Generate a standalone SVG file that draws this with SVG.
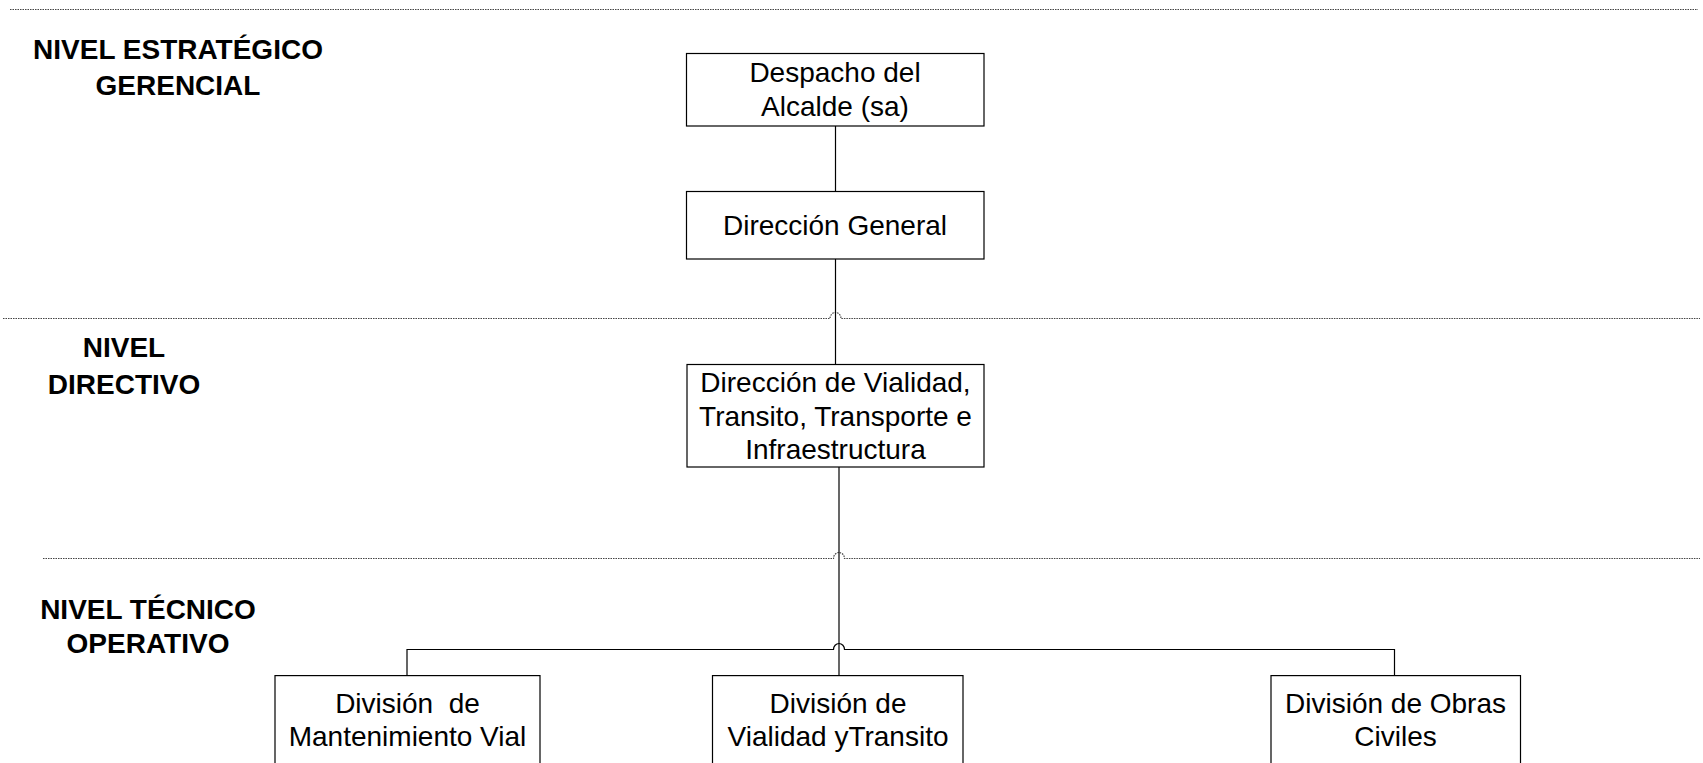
<svg xmlns="http://www.w3.org/2000/svg" width="1703" height="763" viewBox="0 0 1703 763">
<style>
.box{fill:#fff;stroke:#000;stroke-width:1.2}
.t{font-family:"Liberation Sans",Arial,sans-serif;font-size:28px;fill:#000;text-anchor:middle}
.lv{font-family:"Liberation Sans",Arial,sans-serif;font-size:28px;font-weight:bold;fill:#000;text-anchor:middle}
.sep{fill:none;stroke:#444;stroke-width:1.2;stroke-dasharray:1.5 1}
.c{fill:none;stroke:#000;stroke-width:1.2}
</style>
<rect width="1703" height="763" fill="#fff"/>
<g id="separators">
<path class="sep" d="M10 9.5 H1698"/>
<path class="sep" d="M3 318.5 H830 A5.5 6 0 0 1 841 318.5 H1700"/>
<path class="sep" d="M43 558.5 H833.5 A5.5 6 0 0 1 844.5 558.5 H1700"/>
</g>
<g id="level-labels">
<text class="lv" x="178" y="59">NIVEL ESTRATÉGICO</text>
<text class="lv" x="178" y="95">GERENCIAL</text>
<text class="lv" x="124" y="357">NIVEL</text>
<text class="lv" x="124" y="394">DIRECTIVO</text>
<text class="lv" x="148" y="619">NIVEL TÉCNICO</text>
<text class="lv" x="148" y="653">OPERATIVO</text>
</g>
<g id="connectors">
<path class="c" d="M835.5 126 V191"/>
<path class="c" d="M835.5 259 V364"/>
<path class="c" d="M839 467 V675.6"/>
<path class="c" d="M407 675.6 V649.5 H833.5 A5.5 6 0 0 1 844.5 649.5 H1394.5 V675.6"/>
</g>
<g id="despacho">
<rect class="box" x="686.5" y="53.5" width="297.5" height="72.5"/>
<text class="t" x="835" y="82">Despacho del</text>
<text class="t" x="835" y="116">Alcalde (sa)</text>
</g>
<g id="direccion-general">
<rect class="box" x="686.5" y="191.5" width="297.5" height="67.5"/>
<text class="t" x="835" y="235">Dirección General</text>
</g>
<g id="direccion-vialidad">
<rect class="box" x="687" y="364.5" width="297" height="102.5"/>
<text class="t" x="835.5" y="392">Dirección de Vialidad,</text>
<text class="t" x="835.5" y="426">Transito, Transporte e</text>
<text class="t" x="835.5" y="459">Infraestructura</text>
</g>
<g id="division-mantenimiento">
<rect class="box" x="275" y="675.6" width="265" height="110"/>
<text class="t" x="407.5" y="713" xml:space="preserve">División  de</text>
<text class="t" x="407.5" y="746">Mantenimiento Vial</text>
</g>
<g id="division-vialidad">
<rect class="box" x="712.5" y="675.6" width="250.5" height="110"/>
<text class="t" x="838" y="713">División de</text>
<text class="t" x="838" y="746">Vialidad yTransito</text>
</g>
<g id="division-obras">
<rect class="box" x="1271" y="675.6" width="249.5" height="110"/>
<text class="t" x="1395.5" y="713">División de Obras</text>
<text class="t" x="1395.5" y="746">Civiles</text>
</g>
</svg>
